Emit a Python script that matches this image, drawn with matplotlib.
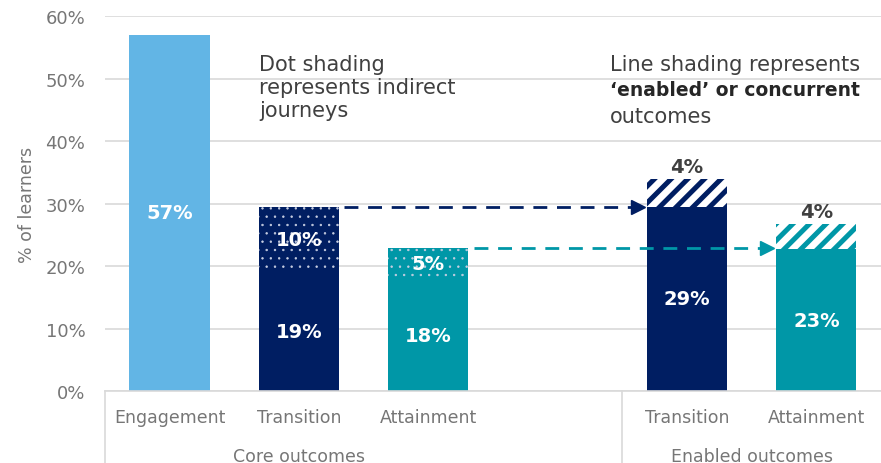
import numpy as np
import matplotlib.pyplot as plt
import matplotlib as mpl

plt.rcParams['font.family'] = ['DejaVu Sans']

# data
bar_labels = ['Engagement', 'Transition', 'Attainment', 'Transition', 'Attainment']
positions = [0, 1, 2, 4, 5]
groups = ['Core outcomes', 'Enabled outcomes']
solid = [57, 19, 17.8, 29.5, 22.7]
dotted = [0, 10.5, 5.1, 0, 0]
lined = [0, 0, 0, 4.4, 4.0]
solid_text = ['57%', '19%', '18%', '29%', '23%']
dotted_text = ['', '10%', '5%', '', '']
lined_text = ['', '', '', '4%', '4%']

light_blue = '#62B5E5'
navy = '#001E62'
teal = '#0097A7'
colors = [light_blue, navy, teal, navy, teal]
grey_txt = '#767676'

fig = plt.figure(figsize=(8.81, 4.64), dpi=100)
ax = fig.add_axes([0.119, 0.155, 0.881, 0.808])
w = 0.62

ax.set_ylim(0, 60)
ax.set_xlim(-0.5, 5.5)
ax.set_yticks(np.arange(0, 61, 10))
ax.set_yticklabels([f'{v}%' for v in range(0, 61, 10)], color=grey_txt, fontsize=13)
ax.tick_params(axis='y', length=0, pad=14)
ax.set_xticks([])
ax.grid(axis='y', color='#D9D9D9', lw=1.2)
ax.set_axisbelow(True)
for s in ['top', 'right', 'left']:
    ax.spines[s].set_visible(False)
ax.spines['bottom'].set_color('#D9D9D9')
ax.spines['bottom'].set_linewidth(1.2)
ax.set_ylabel('% of learners', color=grey_txt, fontsize=12.5, labelpad=7)

ax.bar(positions, solid, width=w, color=colors, lw=0, zorder=2)

with mpl.rc_context({'hatch.linewidth': 0.5}):
    for p, s, d, c in zip(positions, solid, dotted, colors):
        if d > 0:
            ax.bar(p, d, bottom=s, width=w, color=c, edgecolor='#c8cfe2', hatch='..', lw=0, zorder=2)
with mpl.rc_context({'hatch.linewidth': 3.6}):
    for p, s, l, c in zip(positions, solid, lined, colors):
        if l > 0:
            ax.bar(p, l, bottom=s, width=w, color='white', edgecolor=c, hatch='//', lw=0, zorder=2)

# value labels
for p, s, d, l, st, dt, lt in zip(positions, solid, dotted, lined, solid_text, dotted_text, lined_text):
    ax.text(p, s / 2, st, ha='center', va='center', color='white', fontsize=14, fontweight='bold', zorder=4)
    if dt:
        ax.text(p, s + d / 2, dt, ha='center', va='center', color='white', fontsize=14, fontweight='bold', zorder=4)
    if lt:
        ax.text(p, s + l + 0.5, lt, ha='center', va='bottom', color='#404040', fontsize=14, fontweight='bold', zorder=4)

# dashed arrows from core to enabled bars
for y, x0, x1, c in [(solid[1] + dotted[1], 1 + w / 2, 4 - w / 2, navy),
                     (solid[2] + dotted[2], 2 + w / 2, 5 - w / 2, teal)]:
    ax.plot([x0 + 0.04, x1 - 0.08], [y, y], color=c, lw=2, dashes=(5, 3.5), zorder=3)
    ax.plot([x1 - 0.07], [y], marker='>', color=c, ms=10, zorder=3, clip_on=False)

# annotations
ann_col = '#404040'
ax.text(0.695, 53.9, 'Dot shading\nrepresents indirect\njourneys', ha='left', va='top',
        color=ann_col, fontsize=15, linespacing=1.17)
ax.text(3.405, 53.9, 'Line shading represents', ha='left', va='top', color=ann_col, fontsize=15)
ax.text(3.405, 49.75, '\u2018enabled\u2019 or concurrent', ha='left', va='top', color='#262626',
        fontsize=13.5, fontweight='bold')
ax.text(3.405, 45.6, 'outcomes', ha='left', va='top', color=ann_col, fontsize=15)

# category axis
trans = ax.get_xaxis_transform()
for p, lab in zip(positions, bar_labels):
    ax.text(p, -0.07, lab, transform=trans, ha='center', va='center', color=grey_txt, fontsize=12.5)
ax.text(1, -0.172, groups[0], transform=trans, ha='center', va='center', color=grey_txt, fontsize=12.5)
ax.text(4.5, -0.172, groups[1], transform=trans, ha='center', va='center', color=grey_txt, fontsize=12.5)
for xd in [-0.5, 3.5]:
    ax.plot([xd, xd], [0, -0.2], transform=trans, color='#D9D9D9', lw=1.2, clip_on=False)

fig.savefig('out.png', dpi=100)
